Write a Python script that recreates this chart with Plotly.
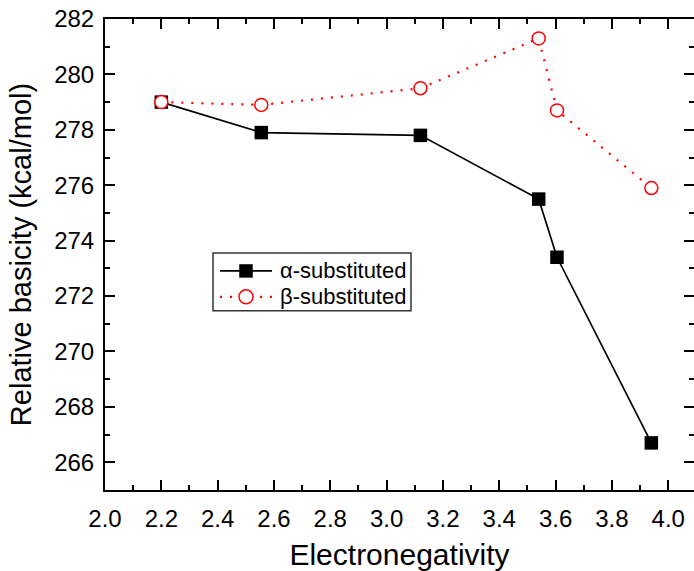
import plotly.graph_objects as go

# Data
electroneg = [2.20, 2.555, 3.12, 3.54, 3.605, 3.94]
alpha_basicity = [279.0, 277.9, 277.8, 275.5, 273.4, 266.7]
beta_basicity = [279.0, 278.9, 279.5, 281.3, 278.7, 275.9]
series_names = ["α-substituted", "β-substituted"]

FONT = "Liberation Sans, Arial, sans-serif"
ALPHA_STYLE = dict(line=dict(color="black", width=1.7),
                   marker=dict(symbol="square", size=13.5, color="black", line=dict(width=0)))
BETA_STYLE = dict(line=dict(color="#ff0000", width=2.2, dash="2px,8px"),
                  marker=dict(symbol="circle", size=13, color="white", line=dict(color="#ff0000", width=1.5)))

fig = go.Figure()
fig.add_trace(go.Scatter(x=electroneg, y=alpha_basicity, mode="lines+markers",
                         name=series_names[0], showlegend=False, **ALPHA_STYLE))
fig.add_trace(go.Scatter(x=electroneg, y=beta_basicity, mode="lines+markers",
                         name=series_names[1], showlegend=False, **BETA_STYLE))
# invisible trace to activate the right-hand tick axis
fig.add_trace(go.Scatter(x=electroneg, y=alpha_basicity, yaxis="y2", mode="markers",
                         marker=dict(opacity=0), showlegend=False, hoverinfo="skip"))

# ---- hand-made legend box (paper coordinates from pixel positions) ----
PL, PW, PB, PH = 105, 589, 492, 473
def px(x): return (x - PL) / PW
def py(y): return (PB - y) / PH

shapes = [dict(type="rect", xref="paper", yref="paper", x0=px(213), x1=px(411), y0=py(312), y1=py(254),
               line=dict(color="#333333", width=1.5), fillcolor="white", layer="above")]
annotations = []
rows = [(272, series_names[0], ALPHA_STYLE), (298, series_names[1], BETA_STYLE)]
for yc, name, st in rows:
    shapes.append(dict(type="line", xref="paper", yref="paper", x0=px(220), x1=px(272), y0=py(yc), y1=py(yc),
                       line=dict(color=st["line"]["color"], width=st["line"]["width"],
                                 dash=st["line"].get("dash", "solid")), layer="above"))
    annotations.append(dict(xref="paper", yref="paper", x=px(278), y=py(yc), xanchor="left", yanchor="middle",
                            text=name, showarrow=False, font=dict(family=FONT, size=22, color="black")))
# legend markers
r = 6.75
shapes.append(dict(type="rect", xref="paper", yref="paper", x0=px(246 - r), x1=px(246 + r),
                   y0=py(272 + r), y1=py(272 - r), line=dict(width=0), fillcolor="black", layer="above"))
r = 7
shapes.append(dict(type="circle", xref="paper", yref="paper", x0=px(246 - r), x1=px(246 + r),
                   y0=py(298 + r), y1=py(298 - r), line=dict(color="#ff0000", width=1.5), fillcolor="white",
                   layer="above"))

tickfont = dict(family=FONT, size=24, color="black")
fig.update_layout(
    width=694, height=571,
    margin=dict(l=105, r=0, t=19, b=79),
    paper_bgcolor="white", plot_bgcolor="white",
    font=dict(family=FONT, color="black"),
    xaxis=dict(
        range=[2.0, 4.0915], dtick=0.2, tick0=2.0, tickformat=".1f",
        ticks="inside", ticklen=10, tickwidth=2, tickcolor="black",
        minor=dict(ticks="inside", ticklen=5, tickwidth=2, dtick=0.1, tickcolor="black"),
        showline=True, linewidth=2, linecolor="black", mirror="ticks",
        showgrid=False, zeroline=False, tickfont=tickfont, ticklabelstandoff=6,
        title=dict(text="Electronegativity", font=dict(family=FONT, size=30, color="black"), standoff=18),
    ),
    yaxis=dict(
        range=[265, 282], dtick=2, tick0=266,
        ticks="inside", ticklen=10, tickwidth=2, tickcolor="black",
        minor=dict(ticks="inside", ticklen=5, tickwidth=2, dtick=1, tickcolor="black"),
        showline=True, linewidth=2, linecolor="black", mirror=False,
        showgrid=False, zeroline=False, tickfont=tickfont, ticklabelstandoff=4,
        title=dict(text="Relative basicity (kcal/mol)", font=dict(family=FONT, size=29, color="black"), standoff=14),
    ),
    yaxis2=dict(
        overlaying="y", side="right", range=[265, 282], dtick=2, tick0=266,
        ticks="inside", ticklen=10, tickwidth=2, tickcolor="black",
        minor=dict(ticks="inside", ticklen=5, tickwidth=2, dtick=1, tickcolor="black"),
        showline=False, showgrid=False, zeroline=False, showticklabels=False,
    ),
    shapes=shapes,
    annotations=annotations,
    showlegend=False,
)

fig.write_html("out.html")
